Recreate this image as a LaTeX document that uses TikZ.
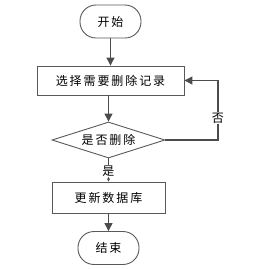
\documentclass[tikz,border=0pt]{standalone}
\usepackage{fontspec}
\newfontfamily\cjk[LetterSpace=16]{Noto Sans CJK SC}
\usetikzlibrary{shapes.geometric,arrows.meta}
\begin{document}
\begin{tikzpicture}[x=1pt,y=-1pt,
  every node/.style={font=\cjk\fontsize{12}{14}\selectfont, text=black},
  term/.style={draw=black!65, line width=0.9pt, rounded corners=16pt, minimum width=61pt, minimum height=33pt, inner sep=0pt},
  proc/.style={draw=black!65, line width=0.9pt, minimum height=29pt, inner sep=0pt},
  dec/.style={draw=black!65, line width=0.9pt, diamond, aspect=3.1, minimum width=113pt, minimum height=36pt, inner sep=0pt},
  conn/.style={draw=black!70, line width=1.2pt, -{Triangle[length=8pt,width=8pt]}},
  lab/.style={fill=white, inner sep=1pt}
]
\useasboundingbox (0,0) rectangle (253,269);
\node[term] (start) at (110.5,21.5) {开始};
\node[proc, minimum width=147pt] (select) at (110.5,80.5) {选择需要删除记录};
\node[dec] (check) at (108.5,140) {是否删除};
\node[proc, minimum width=113pt, minimum height=31pt] (update) at (108.5,197.5) {更新数据库};
\node[term] (end) at (108.5,248) {结束};
\coordinate (c1) at (218,140);
\coordinate (c2) at (218,80.5);
\draw[conn] (start) -- (select);
\draw[conn] (select.south -| check.north) -- (check.north);
\draw[conn, -{Triangle[length=3pt,width=3pt]}, line width=0.6pt] (check.south) -- node[lab, pos=0.55] {是} (update.north);
\draw[conn] (update) -- (end);
\draw[conn] (check.east) -- (c1) -- node[lab, pos=0.37] {否} (c2) -- (select.east);
\end{tikzpicture}
\end{document}
